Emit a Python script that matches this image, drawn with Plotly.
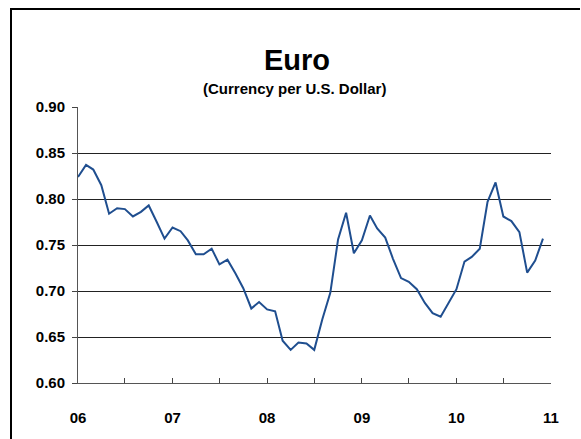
import pandas as pd
import plotly.graph_objects as go

# Monthly Euro per U.S. Dollar, Jan 2006 - Dec 2010
months = pd.date_range("2006-01-01", "2010-12-01", freq="MS")
euro_rate = [
    0.824, 0.837, 0.832, 0.815, 0.784, 0.790, 0.789, 0.781, 0.786, 0.793, 0.775, 0.757,
    0.769, 0.765, 0.755, 0.740, 0.740, 0.746, 0.729, 0.734, 0.719, 0.703, 0.681, 0.688,
    0.680, 0.678, 0.646, 0.636, 0.644, 0.643, 0.636, 0.669, 0.698, 0.756, 0.785, 0.741,
    0.755, 0.782, 0.768, 0.758, 0.735, 0.714, 0.710, 0.702, 0.687, 0.676, 0.672, 0.687,
    0.702, 0.732, 0.737, 0.746, 0.797, 0.818, 0.781, 0.776, 0.764, 0.720, 0.733, 0.757,
]
y_ticks = [0.60, 0.65, 0.70, 0.75, 0.80, 0.85, 0.90]
x_years = ["2006-01-01", "2007-01-01", "2008-01-01", "2009-01-01", "2010-01-01", "2011-01-01"]
x_labels = ["06", "07", "08", "09", "10", "11"]
title_text = "Euro"
subtitle_text = "(Currency per U.S. Dollar)"

W, H = 581, 439
ML, MR, MT, MB = 78, 30, 107, 56
PW, PH = W - ML - MR, H - MT - MB


def px_x(px):
    return (px - ML) / PW


def px_y(py):
    return (H - MB - py) / PH


FONT = "Arial, Liberation Sans, sans-serif"

fig = go.Figure()
fig.add_trace(go.Scatter(
    x=months, y=euro_rate, mode="lines",
    line=dict(color="#1F4E8F", width=2),
    hoverinfo="skip", showlegend=False,
))

fig.update_layout(
    width=W, height=H,
    margin=dict(l=ML, r=MR, t=MT, b=MB, pad=0),
    paper_bgcolor="white", plot_bgcolor="white",
    font=dict(family=FONT, color="black"),
    showlegend=False,
)

fig.update_xaxes(
    type="date",
    range=[x_years[0], x_years[-1]],
    tickvals=x_years, ticktext=x_labels,
    ticks="inside", ticklen=5, tickcolor="#444", tickwidth=1,
    minor=dict(dtick="M6", tick0="2006-01-01", ticks="inside", ticklen=5,
               tickcolor="#444", showgrid=False),
    showgrid=False, showline=True, linecolor="#555", linewidth=1,
    tickfont=dict(family=FONT, size=15, color="black", weight="bold"),
    ticklabelstandoff=21,
    zeroline=False,
)

fig.update_yaxes(
    range=[0.60, 0.90],
    tickvals=y_ticks, tickformat=".2f",
    ticks="outside", ticklen=5, tickcolor="#444", tickwidth=1,
    showgrid=True, gridcolor="#222", gridwidth=1,
    showline=True, linecolor="#555", linewidth=1,
    tickfont=dict(family=FONT, size=15, color="black", weight="bold"),
    ticklabelstandoff=4,
    zeroline=False,
)

fig.add_annotation(
    text=title_text, xref="paper", yref="paper",
    x=px_x(297), y=px_y(60), xanchor="center", yanchor="middle",
    showarrow=False,
    font=dict(family=FONT, size=29, color="black", weight="bold"),
)
fig.add_annotation(
    text=subtitle_text, xref="paper", yref="paper",
    x=px_x(294), y=px_y(89), xanchor="center", yanchor="middle",
    showarrow=False,
    font=dict(family=FONT, size=15, color="black", weight="bold"),
)

# Outer chart border: top and left edges (right and bottom lie outside the view)
fig.add_shape(
    type="line", xref="paper", yref="paper",
    x0=px_x(10), x1=px_x(580), y0=px_y(9), y1=px_y(9),
    line=dict(color="black", width=2), layer="above",
)
fig.add_shape(
    type="line", xref="paper", yref="paper",
    x0=px_x(11), x1=px_x(11), y0=px_y(8), y1=px_y(H + 5),
    line=dict(color="black", width=2), layer="above",
)

fig.write_html(
    "out.html",
    config={"displayModeBar": False, "staticPlot": True},
    post_script="document.body.style.margin='0';document.body.style.overflow='hidden';",
)
